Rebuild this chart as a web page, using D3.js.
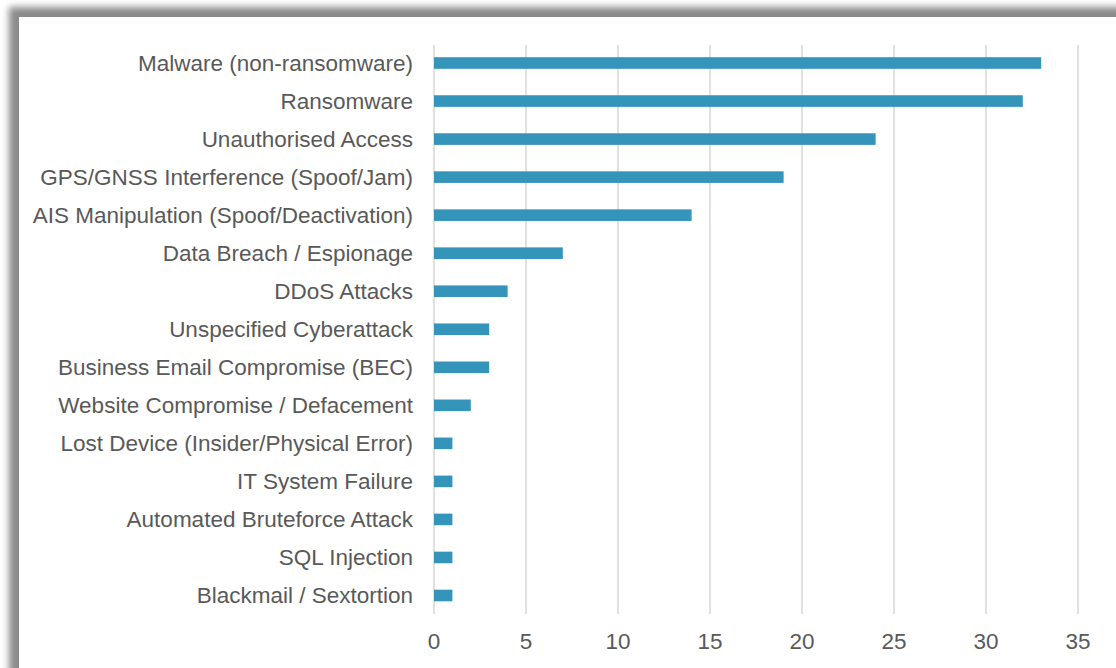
<!DOCTYPE html>
<html>
<head>
<meta charset="utf-8">
<script src="https://cdn.jsdelivr.net/npm/d3@7"></script>
<style>
  html, body { margin: 0; padding: 0; background: #fff; }
  svg { display: block; }
</style>
</head>
<body>
<svg id="chart" width="1116" height="668"></svg>
<script>
// Incident categories, top to bottom
const categories = [
  "Malware (non-ransomware)",
  "Ransomware",
  "Unauthorised Access",
  "GPS/GNSS Interference (Spoof/Jam)",
  "AIS Manipulation (Spoof/Deactivation)",
  "Data Breach / Espionage",
  "DDoS Attacks",
  "Unspecified Cyberattack",
  "Business Email Compromise (BEC)",
  "Website Compromise / Defacement",
  "Lost Device (Insider/Physical Error)",
  "IT System Failure",
  "Automated Bruteforce Attack",
  "SQL Injection",
  "Blackmail / Sextortion"
];

// Number of incidents per category
const counts = [33, 32, 24, 19, 14, 7, 4, 3, 3, 2, 1, 1, 1, 1, 1];

// Value axis ticks
const xTicks = [0, 5, 10, 15, 20, 25, 30, 35];

const W = 1116, H = 668;
const svg = d3.select("#chart");

// Panel with a soft shadow along its top and left edges
const defs = svg.append("defs");
const f = defs.append("filter").attr("id", "panelShadow")
  .attr("x", "-20%").attr("y", "-20%").attr("width", "140%").attr("height", "140%");
f.append("feGaussianBlur").attr("stdDeviation", 3.5);

svg.append("rect")
  .attr("x", 9).attr("y", 7)
  .attr("width", W + 40).attr("height", H + 40)
  .attr("fill", "#8a8a8a")
  .attr("filter", "url(#panelShadow)");
svg.append("rect")
  .attr("x", 19).attr("y", 17)
  .attr("width", W).attr("height", H)
  .attr("fill", "#ffffff");

const x = d3.scaleLinear().domain([0, 35]).range([434, 1078]);
const y = d3.scaleBand().domain(categories).range([44, 614.5])
  .paddingInner(0.695).paddingOuter(0.3475);

const textColor = "#595959";
const font = "'Liberation Sans', Arial, Helvetica, sans-serif";

// Vertical gridlines
svg.append("g").selectAll("line").data(xTicks).join("line")
  .attr("x1", d => x(d)).attr("x2", d => x(d))
  .attr("y1", 45).attr("y2", 614)
  .attr("stroke", "#d9d9d9").attr("stroke-width", 1.6);

// Bars
svg.append("g").selectAll("rect").data(categories).join("rect")
  .attr("x", x(0))
  .attr("y", d => y(d))
  .attr("width", (d, i) => x(counts[i]) - x(0))
  .attr("height", y.bandwidth())
  .attr("fill", "#3494ba");

// Category labels
svg.append("g").selectAll("text").data(categories).join("text")
  .attr("x", 413)
  .attr("y", d => y(d) + y.bandwidth() / 2)
  .attr("dy", "0.34em")
  .attr("text-anchor", "end")
  .attr("font-family", font)
  .attr("font-size", 22.5)
  .attr("fill", textColor)
  .text(d => d);

// Value axis labels
svg.append("g").selectAll("text").data(xTicks).join("text")
  .attr("x", d => x(d))
  .attr("y", 649)
  .attr("text-anchor", "middle")
  .attr("font-family", font)
  .attr("font-size", 22.5)
  .attr("fill", textColor)
  .text(d => d);
</script>
</body>
</html>
